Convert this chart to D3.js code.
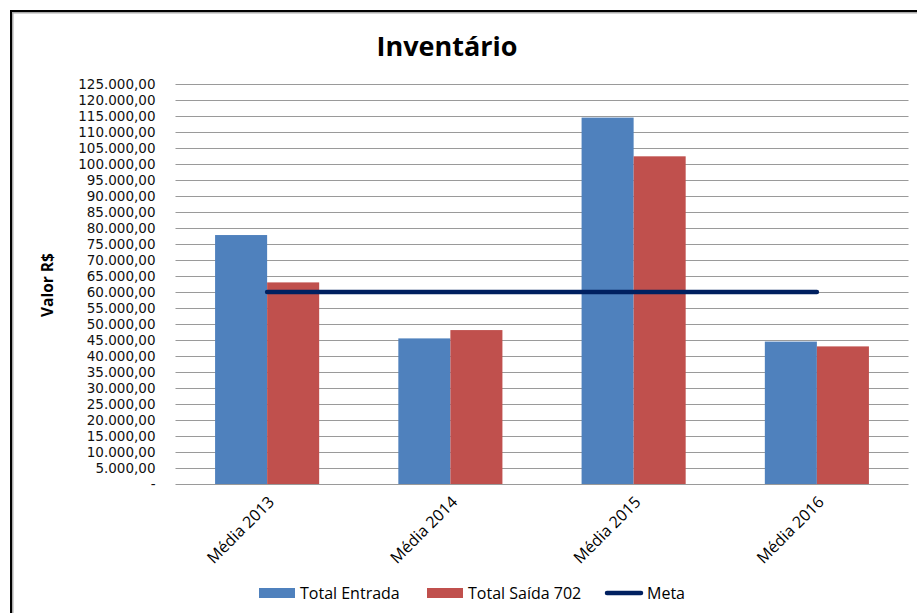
<!DOCTYPE html>
<html><head><meta charset="utf-8">
<script src="https://cdn.jsdelivr.net/npm/d3@7"></script>
<style>body{margin:0;background:#fff}svg{display:block}</style>
</head><body>
<svg id="c" width="917" height="613"></svg>
<script>
const categories = ["Média 2013", "Média 2014", "Média 2015", "Média 2016"];
const seriesNames = ["Total Entrada", "Total Saída 702", "Meta"];
const totalEntrada = [77800, 45500, 114500, 44500];
const totalSaida = [63000, 48100, 102400, 43000];
const meta = [60000, 60000, 60000, 60000];
const yTicks = d3.range(0, 125001, 5000);

const colors = {entrada: "#4F81BD", saida: "#C0504D", meta: "#002060"};
const font = "'Open Sans', 'Liberation Sans', Arial, sans-serif";
const tickFont = "'DejaVu Sans', 'Open Sans', sans-serif";

const svg = d3.select("#c");
// frame
svg.append("rect").attr("x", 12.5).attr("y", 12.5).attr("width", 1000).attr("height", 1000)
  .attr("fill", "none").attr("stroke", "#aaa").attr("stroke-width", 2);
svg.append("rect").attr("x", 11).attr("y", 11).attr("width", 1000).attr("height", 1000)
  .attr("fill", "none").attr("stroke", "#000").attr("stroke-width", 2);

const m = {left: 175.5, right: 908.5, top: 84, bottom: 484};
const x = d3.scaleBand().domain(categories).range([m.left, m.right]).paddingInner(0.432).paddingOuter(0.216);
const y = d3.scaleLinear().domain([0, 125000]).range([m.bottom, m.top]);
const xs = d3.scaleBand().domain(["e", "s"]).range([0, x.bandwidth()]);

// title
svg.append("text").attr("x", 447).attr("y", 56).attr("text-anchor", "middle")
  .attr("font-family", font).attr("font-weight", "bold").attr("font-size", 27).text("Inventário");

// gridlines
svg.append("g").selectAll("line").data(yTicks.filter(d => d > 0)).join("line")
  .attr("x1", m.left).attr("x2", m.right).attr("y1", d => Math.round(y(d)) + 0.5).attr("y2", d => Math.round(y(d)) + 0.5)
  .attr("stroke", "#9a9a9a").attr("stroke-width", 1.2);

// y axis labels
const fmt = v => v === 0 ? "-" : d3.format(",.2f")(v).replace(/,/g, "#").replace(/\./g, ",").replace(/#/g, ".");
const yAxis = d3.axisLeft(y).tickValues(yTicks).tickFormat(fmt).tickSize(0).tickPadding(20);
const gy = svg.append("g").attr("transform", `translate(${m.left},0)`).call(yAxis);
gy.select(".domain").remove();
gy.selectAll("text").attr("font-family", tickFont).attr("font-size", 13.5).attr("fill", "#111");

// bars
const groups = svg.append("g").selectAll("g").data(categories).join("g")
  .attr("transform", d => `translate(${x(d)},0)`);
groups.append("rect").attr("x", xs("e")).attr("width", xs.bandwidth())
  .attr("y", (d, i) => y(totalEntrada[i])).attr("height", (d, i) => y(0) - y(totalEntrada[i]))
  .attr("fill", colors.entrada);
groups.append("rect").attr("x", xs("s")).attr("width", xs.bandwidth())
  .attr("y", (d, i) => y(totalSaida[i])).attr("height", (d, i) => y(0) - y(totalSaida[i]))
  .attr("fill", colors.saida);

// x axis line
svg.append("line").attr("x1", m.left).attr("x2", m.right).attr("y1", m.bottom + 0.5).attr("y2", m.bottom + 0.5)
  .attr("stroke", "#9a9a9a").attr("stroke-width", 1.2);

// meta line
const line = d3.line().x((d, i) => x(categories[i]) + x.bandwidth() / 2).y(d => y(d));
svg.append("path").datum(meta).attr("d", line).attr("fill", "none")
  .attr("stroke", colors.meta).attr("stroke-width", 4.5).attr("stroke-linecap", "round");

// x labels
svg.append("g").selectAll("text").data(categories).join("text")
  .attr("transform", d => `translate(${x(d) + x.bandwidth() / 2 + 8},${m.bottom + 19}) rotate(-45)`)
  .attr("text-anchor", "end").attr("font-family", font).attr("font-size", 16).text(d => d);

// y axis title
svg.append("text").attr("transform", "translate(53,285) rotate(-90)").attr("text-anchor", "middle")
  .attr("font-family", font).attr("font-weight", "bold").attr("font-size", 15.5).text("Valor R$");

// legend
const lg = svg.append("g").attr("font-family", font).attr("font-size", 16);
lg.append("rect").attr("x", 259).attr("y", 588).attr("width", 36).attr("height", 10).attr("fill", colors.entrada);
lg.append("text").attr("x", 300).attr("y", 599).text(seriesNames[0]);
lg.append("rect").attr("x", 427).attr("y", 588).attr("width", 36).attr("height", 10).attr("fill", colors.saida);
lg.append("text").attr("x", 468).attr("y", 599).text(seriesNames[1]);
lg.append("line").attr("x1", 607).attr("x2", 641).attr("y1", 593).attr("y2", 593)
  .attr("stroke", colors.meta).attr("stroke-width", 4.5).attr("stroke-linecap", "round");
lg.append("text").attr("x", 647).attr("y", 599).text(seriesNames[2]);
</script>
</body></html>
